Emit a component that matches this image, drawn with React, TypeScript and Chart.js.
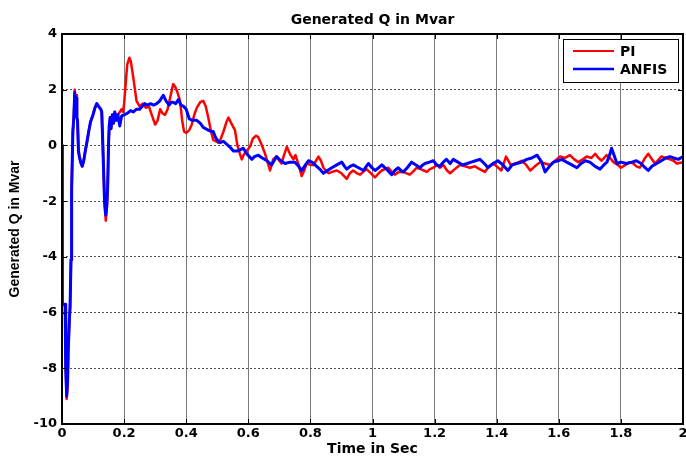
import React, { useEffect, useRef } from 'react';
import { Chart, registerables } from 'chart.js';

Chart.register(...registerables);

const chartTitle = 'Generated Q in Mvar';
const xAxisTitle = 'Time in Sec';
const yAxisTitle = 'Generated Q in Mvar';
const seriesNames = ['PI', 'ANFIS'];
const seriesColors = ['#ff0000', '#0000ff'];
const xTickLabels = ['0', '0.2', '0.4', '0.6', '0.8', '1', '1.2', '1.4', '1.6', '1.8', '2'];
const yTickLabels = ['-10', '-8', '-6', '-4', '-2', '0', '2', '4'];

const tPI = [
  0, 0.001, 0.01, 0.012, 0.015, 0.018, 0.02, 0.024, 0.026, 0.029, 0.031, 0.035, 0.038, 0.041, 0.044, 0.046, 0.048, 0.05,
  0.053, 0.056, 0.06, 0.065, 0.07, 0.075, 0.08, 0.086, 0.092, 0.1, 0.106, 0.112, 0.118, 0.125, 0.128, 0.131, 0.134, 0.137,
  0.141, 0.144, 0.147, 0.15, 0.152, 0.155, 0.158, 0.162, 0.166, 0.17, 0.175, 0.18, 0.186, 0.192, 0.197, 0.2, 0.205, 0.21,
  0.217, 0.222, 0.23, 0.24, 0.25, 0.26, 0.27, 0.28, 0.289, 0.3, 0.308, 0.316, 0.324, 0.332, 0.34, 0.35, 0.358, 0.365,
  0.372, 0.38, 0.387, 0.393, 0.4, 0.41, 0.418, 0.426, 0.434, 0.445, 0.455, 0.463, 0.471, 0.48, 0.487, 0.495, 0.503, 0.51,
  0.52, 0.53, 0.536, 0.545, 0.557, 0.565, 0.573, 0.579, 0.587, 0.595, 0.605, 0.615, 0.625, 0.632, 0.642, 0.654, 0.662,
  0.67, 0.68, 0.69, 0.7, 0.707, 0.715, 0.724, 0.734, 0.745, 0.752, 0.762, 0.772, 0.78, 0.788, 0.8, 0.81, 0.818, 0.826,
  0.834, 0.842, 0.85, 0.858, 0.87, 0.885, 0.9, 0.917, 0.927, 0.938, 0.95, 0.96, 0.97, 0.981, 0.995, 1.008, 1.02, 1.03,
  1.04, 1.051, 1.062, 1.072, 1.085, 1.099, 1.11, 1.12, 1.13, 1.142, 1.155, 1.165, 1.175, 1.185, 1.196, 1.207, 1.217,
  1.228, 1.24, 1.25, 1.265, 1.282, 1.298, 1.314, 1.33, 1.345, 1.362, 1.375, 1.388, 1.4, 1.415, 1.43, 1.445, 1.46, 1.481,
  1.495, 1.508, 1.523, 1.54, 1.556, 1.572, 1.588, 1.604, 1.62, 1.636, 1.65, 1.663, 1.677, 1.69, 1.705, 1.717, 1.728,
  1.738, 1.754, 1.765, 1.776, 1.79, 1.8, 1.815, 1.828, 1.84, 1.85, 1.861, 1.875, 1.888, 1.9, 1.91, 1.93, 1.945, 1.958,
  1.97, 1.98, 2.0,
];
const qPI = [
  0, -5.7, -5.7, -8.0, -9.1, -8.6, -7.4, -6.2, -5.8, -4.1, -1.6, 0.5, 1.0, 2.0, 1.2, 1.8, 1.0, 0.9,
  -0.2, -0.4, -0.6, -0.75, -0.55, -0.2, 0.1, 0.5, 0.85, 1.1, 1.35, 1.5, 1.4, 1.3, 1.2, 0.2, -0.9, -2.1,
  -2.7, -2.3, -1.6, 0.0, 0.6, 1.0, 0.6, 1.1, 0.8, 1.2, 0.9, 1.1, 1.2, 1.3, 1.2, 1.5, 2.2, 2.9,
  3.15, 3.0, 2.4, 1.6, 1.4, 1.5, 1.35, 1.4, 1.1, 0.75, 0.9, 1.3, 1.15, 1.1, 1.3, 1.8, 2.2, 2.1,
  1.9, 1.6, 0.9, 0.5, 0.45, 0.55, 0.75, 1.1, 1.35, 1.55, 1.6, 1.4, 1.0, 0.5, 0.2, 0.15, 0.1, 0.2,
  0.5, 0.85, 1.0, 0.8, 0.55, 0.0, -0.3, -0.5, -0.3, -0.2, -0.05, 0.25, 0.35, 0.3, 0.05, -0.3, -0.6,
  -0.9, -0.5, -0.4, -0.55, -0.65, -0.35, -0.05, -0.3, -0.5, -0.35, -0.7, -1.1, -0.9, -0.65, -0.7, -0.7, -0.55, -0.4,
  -0.55, -0.8, -0.9, -1.0, -0.95, -0.9, -1.0, -1.2, -1.0, -0.9, -1.0, -1.05, -0.95, -0.85, -1.0, -1.15, -1.0, -0.9,
  -0.85, -0.8, -0.95, -1.05, -0.95, -0.95, -1.0, -1.05, -0.95, -0.8, -0.85, -0.9, -0.95, -0.85, -0.8, -0.7, -0.8,
  -0.7, -0.9, -1.0, -0.85, -0.7, -0.75, -0.8, -0.75, -0.85, -0.95, -0.75, -0.65, -0.75, -0.9, -0.4, -0.7, -0.65, -0.55,
  -0.7, -0.9, -0.75, -0.6, -0.65, -0.7, -0.55, -0.4, -0.45, -0.35, -0.5, -0.6, -0.5, -0.4, -0.45, -0.3, -0.45,
  -0.55, -0.35, -0.45, -0.6, -0.7, -0.8, -0.7, -0.6, -0.65, -0.75, -0.8, -0.5, -0.3, -0.5, -0.65, -0.4, -0.45, -0.5,
  -0.55, -0.65, -0.6,
];

const tANFIS = [
  0, 0.001, 0.01, 0.012, 0.015, 0.018, 0.02, 0.024, 0.026, 0.029, 0.031, 0.035, 0.038, 0.041, 0.044, 0.046, 0.048, 0.05,
  0.053, 0.056, 0.06, 0.065, 0.07, 0.075, 0.08, 0.086, 0.092, 0.1, 0.106, 0.112, 0.118, 0.125, 0.128, 0.131, 0.134, 0.137,
  0.141, 0.144, 0.147, 0.15, 0.152, 0.155, 0.158, 0.162, 0.166, 0.17, 0.175, 0.18, 0.186, 0.192, 0.2, 0.21, 0.221, 0.23,
  0.24, 0.25, 0.258, 0.266, 0.275, 0.285, 0.295, 0.305, 0.315, 0.326, 0.335, 0.345, 0.352, 0.358, 0.366, 0.375, 0.383,
  0.392, 0.4, 0.41, 0.42, 0.434, 0.445, 0.455, 0.463, 0.471, 0.48, 0.487, 0.494, 0.503, 0.51, 0.52, 0.53, 0.54, 0.552,
  0.565, 0.575, 0.584, 0.595, 0.611, 0.62, 0.632, 0.645, 0.66, 0.675, 0.683, 0.691, 0.705, 0.718, 0.735, 0.75, 0.762,
  0.772, 0.784, 0.794, 0.805, 0.815, 0.83, 0.842, 0.855, 0.869, 0.885, 0.901, 0.91, 0.917, 0.928, 0.938, 0.955, 0.971,
  0.98, 0.987, 0.998, 1.008, 1.02, 1.03, 1.045, 1.062, 1.072, 1.083, 1.092, 1.099, 1.112, 1.126, 1.14, 1.153, 1.162,
  1.169, 1.183, 1.196, 1.207, 1.217, 1.228, 1.238, 1.25, 1.26, 1.275, 1.29, 1.305, 1.318, 1.332, 1.346, 1.36, 1.372,
  1.388, 1.404, 1.42, 1.436, 1.45, 1.465, 1.48, 1.497, 1.513, 1.53, 1.545, 1.556, 1.57, 1.583, 1.597, 1.61, 1.625,
  1.642, 1.658, 1.672, 1.685, 1.7, 1.717, 1.733, 1.745, 1.755, 1.765, 1.77, 1.778, 1.787, 1.8, 1.818, 1.835, 1.85,
  1.865, 1.878, 1.888, 1.9, 1.915, 1.93, 1.945, 1.958, 1.97, 1.985, 2.0,
];
const qANFIS = [
  0, -5.7, -5.7, -8.0, -9.0, -8.5, -7.4, -6.2, -5.8, -4.1, -1.6, 0.5, 1.0, 1.9, 1.1, 1.7, 1.0, 0.9,
  -0.2, -0.4, -0.6, -0.75, -0.55, -0.2, 0.1, 0.5, 0.85, 1.1, 1.35, 1.5, 1.4, 1.3, 1.2, 0.2, -0.9, -2.0,
  -2.5, -2.2, -1.5, 0.1, 0.7, 1.0, 0.6, 1.1, 0.8, 1.2, 0.9, 1.1, 0.7, 1.05, 1.1, 1.15, 1.25, 1.2,
  1.3, 1.3, 1.4, 1.5, 1.45, 1.5, 1.45, 1.5, 1.6, 1.8, 1.6, 1.45, 1.55, 1.55, 1.5, 1.65, 1.45,
  1.4, 1.3, 0.95, 0.9, 0.9, 0.8, 0.65, 0.6, 0.55, 0.5, 0.5, 0.3, 0.15, 0.1, 0.15, 0.05, -0.05, -0.2,
  -0.2, -0.15, -0.1, -0.3, -0.5, -0.4, -0.35, -0.45, -0.55, -0.7, -0.55, -0.4, -0.55, -0.65, -0.6, -0.6, -0.75,
  -0.9, -0.7, -0.55, -0.6, -0.7, -0.85, -1.0, -0.9, -0.8, -0.7, -0.6, -0.75, -0.85, -0.75, -0.7, -0.8, -0.9,
  -0.75, -0.65, -0.8, -0.9, -0.8, -0.7, -0.85, -1.05, -0.9, -0.8, -0.9, -0.95, -0.8, -0.6, -0.7, -0.8, -0.7,
  -0.65, -0.6, -0.55, -0.7, -0.75, -0.6, -0.5, -0.65, -0.5, -0.6, -0.7, -0.65, -0.6, -0.55, -0.5, -0.65, -0.8,
  -0.65, -0.55, -0.7, -0.9, -0.7, -0.65, -0.6, -0.5, -0.45, -0.35, -0.6, -0.95, -0.75, -0.6, -0.55, -0.5, -0.6,
  -0.7, -0.8, -0.65, -0.55, -0.6, -0.75, -0.85, -0.7, -0.6, -0.3, -0.1, -0.35, -0.65, -0.6, -0.65, -0.6, -0.55,
  -0.65, -0.8, -0.9, -0.75, -0.65, -0.55, -0.45, -0.4, -0.45, -0.5, -0.4,
];

const TICK_FONT = { family: '"DejaVu Sans", sans-serif', size: 13, weight: 'bold' as const };

const framePlugin = {
  id: 'matlabFrame',
  afterDatasetsDraw(chart: any) {
    const { ctx, chartArea: a, scales } = chart;
    const xs = scales.x;
    const ys = scales.y;
    ctx.save();
    ctx.strokeStyle = '#000';
    ctx.lineWidth = 1;
    ctx.setLineDash([]);
    const tl = 5;
    xs.ticks.forEach((t: any) => {
      const px = Math.round(xs.getPixelForValue(t.value)) + 0.5;
      ctx.beginPath();
      ctx.moveTo(px, a.bottom);
      ctx.lineTo(px, a.bottom - tl);
      ctx.moveTo(px, a.top);
      ctx.lineTo(px, a.top + tl);
      ctx.stroke();
    });
    ys.ticks.forEach((t: any) => {
      const py = Math.round(ys.getPixelForValue(t.value)) + 0.5;
      ctx.beginPath();
      ctx.moveTo(a.left, py);
      ctx.lineTo(a.left + tl, py);
      ctx.moveTo(a.right, py);
      ctx.lineTo(a.right - tl, py);
      ctx.stroke();
    });
    ctx.lineWidth = 2;
    ctx.strokeRect(a.left, a.top, a.right - a.left, a.bottom - a.top);

    // legend box (inside, top right)
    const bw = 115;
    const bh = 43;
    const bx = a.right - 5 - bw;
    const by = a.top + 5;
    ctx.fillStyle = '#fff';
    ctx.fillRect(bx, by, bw, bh);
    ctx.lineWidth = 1;
    ctx.strokeStyle = '#000';
    ctx.strokeRect(bx + 0.5, by + 0.5, bw, bh);
    ctx.font = 'bold 14px "DejaVu Sans", sans-serif';
    ctx.textBaseline = 'middle';
    ctx.textAlign = 'left';
    chart.data.datasets.forEach((ds: any, i: number) => {
      const ly = by + 12 + i * 18;
      ctx.strokeStyle = ds.borderColor;
      ctx.lineWidth = i === 0 ? 2 : 2.5;
      ctx.beginPath();
      ctx.moveTo(bx + 10, ly);
      ctx.lineTo(bx + 51, ly);
      ctx.stroke();
      ctx.fillStyle = '#000';
      ctx.fillText(ds.label, bx + 57, ly + 1);
    });

    // title
    ctx.font = 'bold 14px "DejaVu Sans", sans-serif';
    ctx.textAlign = 'center';
    ctx.textBaseline = 'alphabetic';
    ctx.fillStyle = '#000';
    ctx.fillText(chartTitle, (a.left + a.right) / 2, 24);
    ctx.restore();
  },
};

export default function App() {
  const canvasRef = useRef<HTMLCanvasElement | null>(null);

  useEffect(() => {
    const canvas = canvasRef.current;
    if (!canvas) return;
    const chart = new Chart(canvas, {
      type: 'line',
      data: {
        datasets: [
          {
            label: seriesNames[0],
            data: tPI.map((t, i) => ({ x: t, y: qPI[i] })),
            borderColor: seriesColors[0],
            backgroundColor: seriesColors[0],
            borderWidth: 2.5,
            pointRadius: 0,
            tension: 0,
            order: 2,
            borderJoinStyle: 'round',
          },
          {
            label: seriesNames[1],
            data: tANFIS.map((t, i) => ({ x: t, y: qANFIS[i] })),
            borderColor: seriesColors[1],
            backgroundColor: seriesColors[1],
            borderWidth: 3,
            pointRadius: 0,
            tension: 0,
            order: 1,
            borderJoinStyle: 'round',
          },
        ],
      },
      options: {
        responsive: false,
        animation: false,
        devicePixelRatio: 1,
        layout: { padding: { top: 34, right: 3, bottom: 0, left: 0 } },
        plugins: {
          legend: { display: false },
          title: { display: false },
          tooltip: { enabled: false },
        },
        scales: {
          x: {
            type: 'linear',
            min: 0,
            max: 2,
            ticks: {
              stepSize: 0.2,
              padding: 2,
              color: '#000',
              font: TICK_FONT,
              maxRotation: 0,
              autoSkip: false,
              callback: (_v: any, i: number) => xTickLabels[i] ?? '',
            },
            grid: { color: '#7a7a7a', lineWidth: 1, drawTicks: false },
            border: { display: false },
            title: {
              display: true,
              text: xAxisTitle,
              color: '#000',
              font: { family: '"DejaVu Sans", sans-serif', size: 14, weight: 'bold' },
              padding: { top: 0, bottom: 0 },
            },
            afterFit: (s: any) => {
              s.height = 34;
              s.paddingLeft = 0;
              s.paddingRight = 0;
            },
          },
          y: {
            type: 'linear',
            min: -10,
            max: 4,
            ticks: {
              stepSize: 2,
              padding: 5,
              color: '#000',
              font: TICK_FONT,
              autoSkip: false,
              callback: (_v: any, i: number) => yTickLabels[i] ?? '',
            },
            grid: { color: '#555', lineWidth: 1, drawTicks: false },
            border: { display: false, dash: [2, 2] },
            title: {
              display: true,
              text: yAxisTitle,
              color: '#000',
              font: { family: '"Liberation Sans", Arial, sans-serif', size: 14, weight: 'bold' },
              padding: { top: 7, bottom: 0 },
            },
            afterFit: (s: any) => {
              s.width = 62;
              s.paddingTop = 0;
              s.paddingBottom = 0;
            },
          },
        },
      },
      plugins: [framePlugin],
    } as any);
    return () => chart.destroy();
  }, []);

  return (
    <div style={{ position: 'absolute', left: 0, top: 0, width: 686, height: 458, background: '#fff' }}>
      <canvas ref={canvasRef} width={686} height={458} style={{ display: 'block' }} />
    </div>
  );
}
